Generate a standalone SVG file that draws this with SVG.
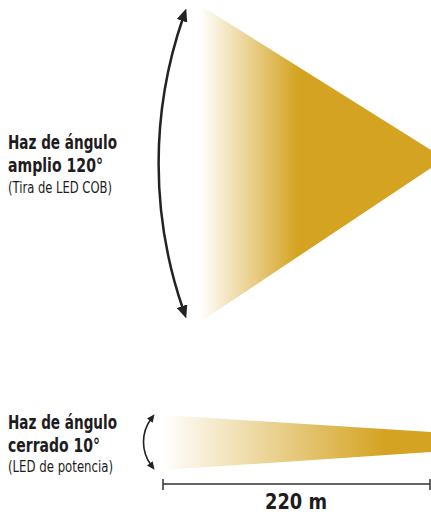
<svg xmlns="http://www.w3.org/2000/svg" width="431" height="520" viewBox="0 0 431 520">
<style>
.b{font-family:"Liberation Sans Narrow","DejaVu Sans Condensed","Liberation Sans",sans-serif;font-weight:bold;font-size:20px;fill:#1e1c1d}
.r{font-family:"Liberation Sans Narrow","DejaVu Sans Condensed","Liberation Sans",sans-serif;font-size:16px;fill:#1e1c1d}
.arc{fill:none;stroke:#222;stroke-linecap:round}
</style>
<defs>
<linearGradient id="g1" gradientUnits="userSpaceOnUse" x1="200" y1="0" x2="298" y2="0">
<stop offset="0" stop-color="#ffffff"/>
<stop offset="1" stop-color="#d4a321"/>
</linearGradient>
<linearGradient id="g2" gradientUnits="userSpaceOnUse" x1="163" y1="0" x2="385" y2="0">
<stop offset="0" stop-color="#ffffff"/>
<stop offset="1" stop-color="#d4a321"/>
</linearGradient>
<marker id="ah" viewBox="0 0 13 11" refX="3" refY="5.5" markerWidth="13" markerHeight="11" markerUnits="userSpaceOnUse" orient="auto-start-reverse">
<path d="M0,0 L13,5.5 L0,11 Z" fill="#222"/>
</marker>
<marker id="as" viewBox="0 0 8 7" refX="2" refY="3.5" markerWidth="8" markerHeight="7" markerUnits="userSpaceOnUse" orient="auto-start-reverse">
<path d="M0,0 L8,3.5 L0,7 Z" fill="#222"/>
</marker>
</defs>
<g id="wide-beam">
<polygon points="200,5 431,150 431,168 200,322" fill="url(#g1)"/>
</g>
<g id="narrow-beam">
<polygon points="163,415 431,432 431,452 163,470" fill="url(#g2)"/>
</g>
<g id="connectors">
<path class="arc" d="M183,18 A446,446 0 0 0 183,309" stroke-width="2.5" marker-start="url(#ah)" marker-end="url(#ah)"/>
<path class="arc" d="M151,419 A39,39 0 0 0 151,465" stroke-width="1.6" marker-start="url(#as)" marker-end="url(#as)"/>
</g>
<g id="wide-label">
<text class="b" x="8" y="149" textLength="109" lengthAdjust="spacingAndGlyphs">Haz de ángulo</text>
<text class="b" x="8" y="172" textLength="95" lengthAdjust="spacingAndGlyphs">amplio 120°</text>
<text class="r" x="8" y="193" textLength="104" lengthAdjust="spacingAndGlyphs">(Tira de LED COB)</text>
</g>
<g id="narrow-label">
<text class="b" x="8" y="429" textLength="109" lengthAdjust="spacingAndGlyphs">Haz de ángulo</text>
<text class="b" x="8" y="452" textLength="92" lengthAdjust="spacingAndGlyphs">cerrado 10°</text>
<text class="r" x="8" y="472" textLength="105" lengthAdjust="spacingAndGlyphs">(LED de potencia)</text>
</g>
<g id="distance">
<path d="M163,484 H430 M163,479 V490 M430,479 V490" stroke="#333" stroke-width="1.5" fill="none"/>
<text class="b" x="296" y="509" text-anchor="middle" style="font-size:21px" textLength="62" lengthAdjust="spacingAndGlyphs">220 m</text>
</g>
</svg>
